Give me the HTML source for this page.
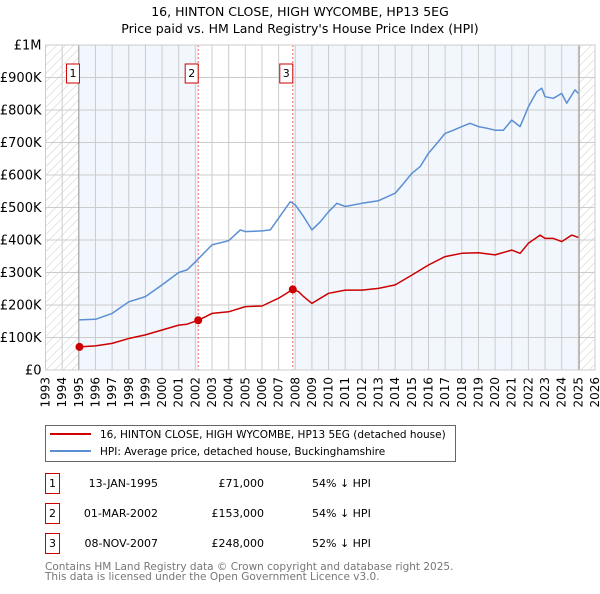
<!DOCTYPE html>
<html><head><meta charset="utf-8"><style>
body{margin:0;background:#fff;font-family:"DejaVu Sans","Liberation Sans",sans-serif;}
svg text{font-family:"DejaVu Sans","Liberation Sans",sans-serif;}
</style></head><body>
<svg id="c" width="600" height="590" xmlns="http://www.w3.org/2000/svg">
<defs><pattern id="hatch" width="6" height="6" patternUnits="userSpaceOnUse" patternTransform="rotate(45)"><line x1="0" y1="0" x2="0" y2="6" stroke="#ccc" stroke-width="1"/></pattern></defs>
<text x="300" y="16" text-anchor="middle" font-size="12.5">16, HINTON CLOSE, HIGH WYCOMBE, HP13 5EG</text>
<text x="300" y="33" text-anchor="middle" font-size="12.5">Price paid vs. HM Land Registry's House Price Index (HPI)</text>
<g id="plot"></g>
<g>
<rect x="45.5" y="425.5" width="410" height="36" fill="#fff" stroke="#666"/>
<line x1="50" y1="434" x2="91" y2="434" stroke="#cc0000" stroke-width="2"/>
<text x="100" y="438" font-size="10.5">16, HINTON CLOSE, HIGH WYCOMBE, HP13 5EG (detached house)</text>
<line x1="50" y1="451" x2="91" y2="451" stroke="#5b8fd4" stroke-width="2"/>
<text x="100" y="455" font-size="10.5">HPI: Average price, detached house, Buckinghamshire</text>
</g>
<g id="table" font-size="11"></g>
<text x="45" y="570" font-size="10.5" fill="#777">Contains HM Land Registry data © Crown copyright and database right 2025.</text>
<text x="45" y="580" font-size="10.5" fill="#777">This data is licensed under the Open Government Licence v3.0.</text>
</svg>
<script>
const hpiYears=[1995,1996,1997,1998,1999,2000,2001,2001.5,2002,2003,2004,2004.7,2005,2006,2006.5,2007,2007.7,2008,2008.5,2009,2009.5,2010,2010.5,2011,2012,2013,2014,2014.5,2015,2015.5,2016,2016.5,2017,2017.5,2018,2018.5,2019,2019.5,2020,2020.5,2021,2021.5,2022,2022.5,2022.8,2023,2023.5,2024,2024.3,2024.8,2025];
const hpiValues=[154,156,174,210,226,262,300,308,333,385,398,431,426,428,431,467,518,508,472,431,456,487,513,503,513,521,544,574,605,626,667,697,728,738,749,759,749,744,738,738,769,749,810,856,867,841,836,851,821,862,851];
const ppYears=[1995.04,1996,1997,1998,1999,2000,2001,2001.5,2002.17,2003,2004,2005,2006,2007,2007.85,2008.2,2008.5,2009,2010,2011,2012,2013,2014,2015,2016,2017,2018,2019,2020,2021,2021.5,2022,2022.7,2023,2023.5,2024,2024.6,2025];
const ppValues=[71,74,82,97,108,123,138,141,153,174,179,195,197,221,248,241,226,205,236,246,246,251,262,292,323,349,359,361,354,369,359,390,415,405,405,395,415,408];
const saleYears=[1995.04,2002.17,2007.85];
const saleValues=[71,153,248];
const saleLabels=["1","2","3"];
const saleDates=["13-JAN-1995","01-MAR-2002","08-NOV-2007"];
const salePrices=["£71,000","£153,000","£248,000"];
const saleDiffs=["54% ↓ HPI","54% ↓ HPI","52% ↓ HPI"];
const yTicks=[0,100,200,300,400,500,600,700,800,900,1000];
const yTickLabels=["£0","£100K","£200K","£300K","£400K","£500K","£600K","£700K","£800K","£900K","£1M"];
const xStart=1993,xEnd=2026;
const L=45.5,R=595,T=45,B=370;
const X=y=>L+(y-xStart)/(xEnd-xStart)*(R-L);
const Y=v=>B-v/1000*(B-T);
const NS="http://www.w3.org/2000/svg";
const g=document.getElementById('plot');
function mk(t,a,p){const e=document.createElementNS(NS,t);for(const k in a)e.setAttribute(k,a[k]);(p||g).appendChild(e);return e;}
let r=mk('rect',{x:L,y:T,width:R-L,height:B-T,fill:'#fff'});


r=mk('rect',{x:X(saleYears[0]),y:T,width:X(saleYears[1])-X(saleYears[0]),height:B-T,fill:'#f2f6fd'});


r=mk('rect',{x:X(saleYears[2]),y:T,width:X(2025.05)-X(saleYears[2]),height:B-T,fill:'#f2f6fd'});


r=mk('rect',{x:L,y:T,width:X(1995)-L,height:B-T,fill:'url(#hatch)'});


r=mk('rect',{x:X(2025.05),y:T,width:R-X(2025.05),height:B-T,fill:'url(#hatch)'});


for(let y=xStart;y<=xEnd;y++){
 let l=mk('line',{x1:X(y),x2:X(y),y1:T,y2:B,stroke:'#ccc','stroke-width':1});
 
 
 let t=mk('text',{x:0,y:0,'font-size':12,'text-anchor':'end',transform:`translate(${X(y)+4},${B+7}) rotate(-90)`});
 t.textContent=y;
 
 
}
yTicks.forEach((v,i)=>{
 let l=mk('line',{x1:L,x2:R,y1:Y(v),y2:Y(v),stroke:'#ccc','stroke-width':1});
 
 
 let t=mk('text',{x:L-4,y:Y(v)+4.5,'font-size':13,'text-anchor':'end'});
 t.textContent=yTickLabels[i];
 
 
});
let l=mk('line',{x1:X(1995),x2:X(1995),y1:T,y2:B,stroke:'#999','stroke-width':1});


l=mk('line',{x1:X(2025.05),x2:X(2025.05),y1:T,y2:B,stroke:'#999','stroke-width':1});


saleYears.forEach((y,i)=>{
 if(i>0){let d=mk('line',{x1:X(y),x2:X(y),y1:T,y2:B,stroke:'#e66','stroke-width':1,'stroke-dasharray':'2,2'});
 
 }
});
function path(xs,vs,col,name){let d=xs.map((x,i)=>(i?'L':'M')+X(x).toFixed(1)+','+Y(vs[i]).toFixed(1)).join('');
 let p=mk('path',{d:d,fill:'none',stroke:col,'stroke-width':1.5,'stroke-linejoin':'round'});
 
 }
path(hpiYears,hpiValues,'#5b8fd4','hpi-line');
path(ppYears,ppValues,'#cc0000','price-paid-line');
saleYears.forEach((y,i)=>{
 let c=mk('circle',{cx:X(y),cy:Y(saleValues[i]),r:4,fill:'#cc0000'});
 
 
 let bx=mk('rect',{x:X(y)-13,y:64,width:13,height:19,fill:'#fff',stroke:'#cc0000'});
 
 
 let t=mk('text',{x:X(y)-6.5,y:77,'font-size':11,'text-anchor':'middle'});
 t.textContent=saleLabels[i];
 
 
});
let bd=mk('rect',{x:L,y:T,width:R-L,height:B-T,fill:'none',stroke:'#ccc'});


const tb=document.getElementById('table');
saleLabels.forEach((s,i)=>{
 const cy=483+i*30;
 let b=mk('rect',{x:45.5,y:cy-9.5,width:14,height:20,fill:'#fff',stroke:'#cc0000'},tb);
 
 
 let t=mk('text',{x:52.5,y:cy+4,'text-anchor':'middle'},tb);t.textContent=s;
 
 
 t=mk('text',{x:158,y:cy+4,'text-anchor':'end'},tb);t.textContent=saleDates[i];
 
 
 t=mk('text',{x:264,y:cy+4,'text-anchor':'end'},tb);t.textContent=salePrices[i];
 
 
 t=mk('text',{x:312,y:cy+4},tb);t.textContent=saleDiffs[i];
 
 
});
</script>
</body></html>
